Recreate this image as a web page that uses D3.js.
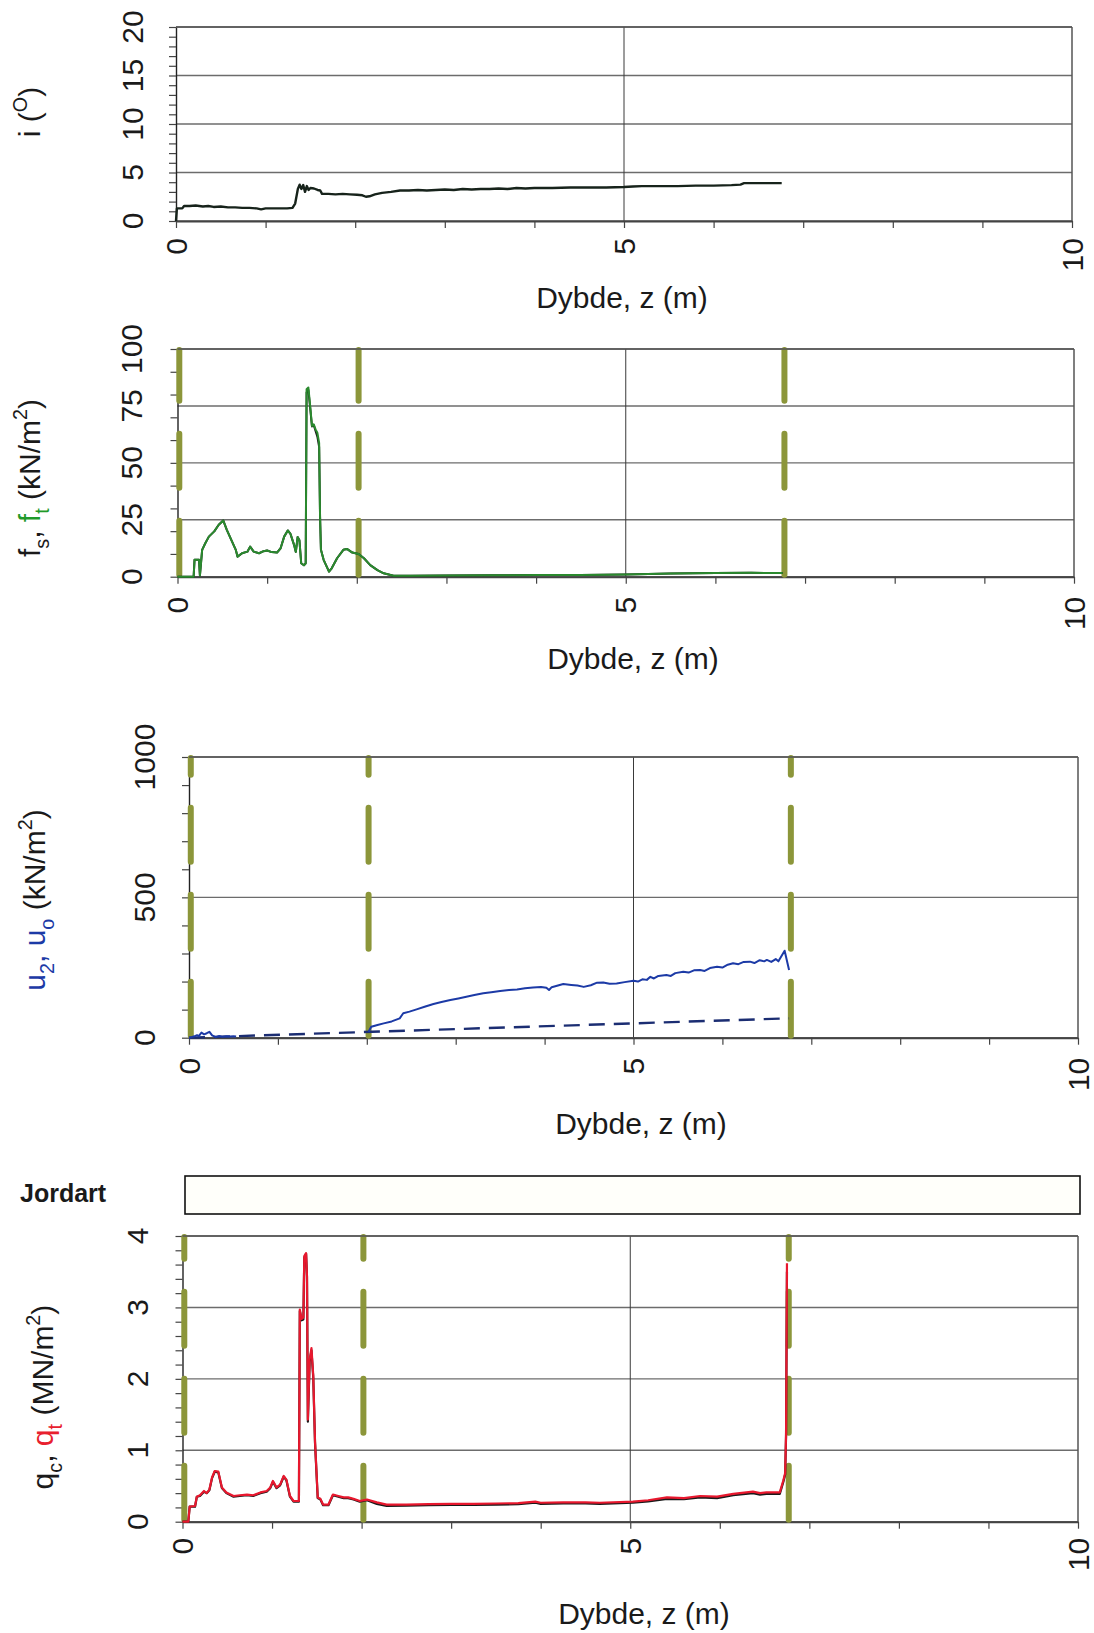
<!DOCTYPE html>
<html>
<head>
<meta charset="utf-8">
<script src="https://cdn.jsdelivr.net/npm/d3@7"></script>
<style>
  html, body { margin: 0; padding: 0; background: #fff; }
  text { font-family: "Liberation Sans", Arial, sans-serif; white-space: pre; }
</style>
</head>
<body>
<script>
// CPTU sounding: inclination, sleeve friction, pore pressure and cone resistance vs depth

const depthLabels = [0, 5, 10];
const depthMinor = d3.range(0, 11, 1);

// Inclination i (degrees): [depth m, i]
const inclination = [
  [0.00,0.0],[0.01,1.3],[0.07,1.3],[0.09,1.55],[0.15,1.55],[0.22,1.6],[0.30,1.5],[0.36,1.55],
  [0.42,1.45],[0.50,1.5],[0.58,1.4],[0.66,1.4],[0.74,1.35],[0.82,1.35],[0.90,1.3],[0.95,1.2],
  [1.00,1.3],[1.08,1.3],[1.16,1.3],[1.24,1.3],[1.30,1.35],[1.33,1.8],[1.36,3.3],[1.38,3.75],
  [1.40,3.3],[1.42,3.7],[1.44,3.0],[1.46,3.6],[1.48,3.2],[1.50,3.4],[1.54,3.35],[1.58,3.2],
  [1.61,3.15],[1.63,2.8],[1.70,2.8],[1.78,2.75],[1.86,2.8],[1.94,2.75],[2.02,2.7],[2.08,2.65],
  [2.12,2.5],[2.16,2.55],[2.22,2.75],[2.30,2.9],[2.40,3.0],[2.50,3.15],[2.60,3.15],[2.70,3.2],
  [2.80,3.15],[2.90,3.2],[3.00,3.25],[3.10,3.2],[3.20,3.3],[3.30,3.25],[3.40,3.3],[3.50,3.3],
  [3.60,3.35],[3.70,3.3],[3.80,3.4],[3.90,3.35],[4.00,3.4],[4.20,3.4],[4.40,3.45],[4.60,3.45],
  [4.80,3.45],[5.00,3.5],[5.10,3.55],[5.20,3.6],[5.40,3.6],[5.60,3.6],[5.80,3.65],[6.00,3.65],
  [6.20,3.7],[6.30,3.75],[6.34,3.9],[6.50,3.9],[6.76,3.9]
];

// Sleeve friction (kN/m2): [depth m, fs, ft]
const sleeve = [
  [0.00,0,0],[0.18,0,0],[0.19,7.4,7.4],[0.24,7.4,7.4],[0.25,0.5,0.5],[0.275,11.8,11.8],
  [0.31,14.7,14.7],[0.35,17.6,17.6],[0.41,19.9,19.9],[0.46,22.8,22.8],[0.51,24.7,24.7],
  [0.55,20.6,20.6],[0.60,16.2,16.2],[0.65,11.8,11.8],[0.67,8.8,8.8],[0.72,10.3,10.3],
  [0.78,11.0,11.0],[0.81,13.2,13.2],[0.85,11.0,11.0],[0.91,10.3,10.3],[0.96,11.2,11.2],
  [1.00,11.5,11.5],[1.05,10.8,10.8],[1.11,10.6,10.6],[1.15,12.5,12.5],[1.19,17.6,17.6],
  [1.23,20.3,20.3],[1.26,18.8,18.8],[1.30,14.0,14.0],[1.32,10.9,10.9],[1.34,17.4,17.4],
  [1.36,16.0,16.0],[1.38,5.9,5.9],[1.41,5.0,5.0],[1.43,5.9,5.9],[1.44,81.0,82.3],
  [1.46,82.0,83.1],[1.48,74.0,75.0],[1.50,66.0,66.2],[1.52,66.5,66.9],[1.54,64.0,64.7],
  [1.56,61.5,63.2],[1.58,57.0,58.8],[1.59,26.5,26.5],[1.60,11.8,11.8],[1.63,7.4,7.4],
  [1.69,2.2,2.2],[1.72,3.7,3.7],[1.78,8.1,8.1],[1.85,11.8,11.8],[1.89,12.2,12.2],
  [1.95,10.6,10.6],[2.02,10.0,10.0],[2.08,8.1,8.1],[2.15,5.1,5.1],[2.23,2.9,2.9],
  [2.30,1.5,1.5],[2.41,0.4,0.4],[2.60,0.4,0.4],[3.00,0.5,0.5],[3.50,0.6,0.6],[4.00,0.8,0.8],
  [4.50,0.7,0.7],[5.00,1.0,1.0],[5.50,1.4,1.4],[6.00,1.6,1.6],[6.40,1.7,1.7],[6.75,1.6,1.6]
];

// Measured pore pressure u2 (kN/m2): [depth m, u2], null = no reading
const poreU2 = [
  [0.00,0],[0.03,2],[0.06,5],[0.09,9],[0.11,6],[0.14,18],[0.17,12],[0.20,16],[0.23,21],
  [0.26,8],[0.30,2],[0.34,6],[0.38,3],[0.42,5],[0.46,4],[0.50,5],[0.53,4],[0.55,null],
  [2.02,21],[2.05,39],[2.12,45],[2.19,51],[2.28,58],[2.37,69],[2.41,87],[2.48,93],[2.56,101],
  [2.65,110],[2.75,120],[2.84,127],[2.94,134],[3.03,140],[3.12,146],[3.21,152],[3.31,158],
  [3.40,162],[3.50,166],[3.60,170],[3.69,172],[3.78,176],[3.87,179],[3.96,181],[4.02,178],
  [4.05,170],[4.08,180],[4.15,186],[4.21,191],[4.30,188],[4.37,186],[4.44,181],[4.52,187],
  [4.59,196],[4.66,197],[4.73,192],[4.81,193],[4.90,198],[5.00,203],[5.05,200],[5.10,208],
  [5.15,206],[5.19,217],[5.23,211],[5.28,220],[5.37,223],[5.42,220],[5.47,230],[5.56,235],
  [5.62,232],[5.68,240],[5.75,241],[5.80,238],[5.86,248],[5.94,253],[6.00,250],[6.06,260],
  [6.12,265],[6.18,262],[6.24,270],[6.31,271],[6.36,266],[6.42,276],[6.47,272],[6.50,277],
  [6.55,270],[6.60,280],[6.63,272],[6.70,310],[6.75,241]
];

// Hydrostatic pore pressure u0 (kN/m2): [depth m, u0]
const poreU0 = [[0.00,0],[6.75,69]];

// Cone resistance (MN/m2): [depth m, qc, qt]
const cone = [
  [0.00,0,0],[0.065,0,0],[0.08,0.21,0.21],[0.14,0.21,0.22],[0.16,0.35,0.35],[0.195,0.36,0.37],
  [0.24,0.42,0.43],[0.27,0.40,0.40],[0.30,0.44,0.45],[0.33,0.61,0.62],[0.36,0.70,0.71],
  [0.40,0.69,0.70],[0.44,0.47,0.48],[0.49,0.40,0.41],[0.57,0.35,0.36],[0.64,0.36,0.37],
  [0.72,0.37,0.38],[0.79,0.36,0.37],[0.87,0.40,0.41],[0.94,0.42,0.43],[0.98,0.47,0.48],
  [1.01,0.56,0.57],[1.05,0.47,0.48],[1.09,0.51,0.52],[1.13,0.63,0.64],[1.16,0.58,0.59],
  [1.20,0.35,0.36],[1.24,0.28,0.29],[1.30,0.28,0.29],[1.31,2.95,2.97],[1.33,2.82,2.84],
  [1.35,2.83,2.86],[1.36,3.70,3.72],[1.38,3.75,3.76],[1.39,3.43,3.45],[1.40,1.40,1.43],
  [1.42,2.24,2.27],[1.44,2.40,2.43],[1.46,2.02,2.05],[1.48,1.10,1.12],[1.51,0.33,0.34],
  [1.54,0.31,0.32],[1.57,0.23,0.24],[1.63,0.23,0.24],[1.68,0.37,0.38],[1.74,0.35,0.36],
  [1.80,0.33,0.34],[1.85,0.33,0.34],[1.91,0.31,0.32],[1.98,0.28,0.29],[2.06,0.30,0.31],
  [2.17,0.25,0.27],[2.28,0.22,0.24],[2.50,0.225,0.24],[2.75,0.23,0.245],[3.00,0.235,0.25],
  [3.25,0.235,0.25],[3.50,0.24,0.255],[3.75,0.245,0.26],[3.94,0.265,0.28],[4.00,0.25,0.265],
  [4.25,0.255,0.27],[4.50,0.255,0.27],[4.66,0.25,0.265],[5.03,0.265,0.28],[5.20,0.285,0.30],
  [5.41,0.32,0.34],[5.60,0.315,0.33],[5.78,0.34,0.36],[5.97,0.33,0.35],[6.15,0.37,0.39],
  [6.37,0.40,0.42],[6.45,0.38,0.40],[6.52,0.39,0.41],[6.67,0.39,0.41],[6.71,0.56,0.58],
  [6.73,0.66,0.68],[6.74,1.20,1.24],[6.75,3.50,3.62]
];

// Layer boundaries marked with thick dashed lines (m)
const layerBounds = [0.02, 2.02, 6.77];

// Axis ticks per panel
const incMajor = [0, 5, 10, 15, 20], incMinor = d3.range(0, 21, 1);
const fMajor = [0, 25, 50, 75, 100], fMinor = d3.range(0, 101, 10);
const uMajor = [0, 500, 1000], uMinor = d3.range(0, 1001, 100);
const qMajor = [0, 1, 2, 3, 4], qMinor = d3.range(0, 4.01, 0.2);

const W = 1094, H = 1633, FS = 30;
const svg = d3.select("body").append("svg").attr("width", W).attr("height", H);
svg.append("rect").attr("width", W).attr("height", H).attr("fill", "#fff");

function richText(g, parts, size) {
  const t = g.append("text").attr("font-size", size);
  let shift = 0;
  parts.forEach(p => {
    const target = p.sub ? size * 0.3 : p.sup ? -size * 0.42 : 0;
    t.append("tspan")
      .attr("dy", target - shift)
      .attr("font-size", (p.sub || p.sup) ? size * 0.66 : size)
      .attr("fill", p.c || "#1a1a1a")
      .text(p.t);
    shift = target;
  });
  return t;
}

function panel(cfg) {
  const x = d3.scaleLinear().domain([0, 10]).range([cfg.left, cfg.right]);
  const y = d3.scaleLinear().domain([0, cfg.ymax]).range([cfg.bottom, cfg.top]);
  const g = svg.append("g");

  // horizontal grid
  g.append("g").selectAll("line").data(cfg.major).join("line")
    .attr("x1", cfg.left).attr("x2", cfg.right)
    .attr("y1", d => y(d)).attr("y2", d => y(d))
    .attr("stroke", "#6c6c6c").attr("stroke-width", 1.4);
  // vertical grid at 5 m and right frame
  g.append("line").attr("x1", x(5)).attr("x2", x(5)).attr("y1", cfg.top).attr("y2", cfg.bottom)
    .attr("stroke", "#3a3a3a").attr("stroke-width", 1);
  g.append("line").attr("x1", x(10)).attr("x2", x(10)).attr("y1", cfg.top).attr("y2", cfg.bottom)
    .attr("stroke", "#555").attr("stroke-width", 1.5);

  // axes (tick marks only, labels rotated below)
  const ya = g.append("g").attr("transform", `translate(${cfg.left},0)`)
    .call(d3.axisLeft(y).tickValues(cfg.minor).tickSize(7).tickFormat("").tickSizeOuter(0));
  ya.select(".domain").attr("stroke", "#222").attr("stroke-width", 1.4);
  ya.selectAll(".tick line").attr("stroke", "#444").attr("stroke-width", 1.2);
  const xa = g.append("g").attr("transform", `translate(0,${cfg.bottom})`)
    .call(d3.axisBottom(x).tickValues(depthMinor).tickSize(7).tickFormat("").tickSizeOuter(0));
  xa.select(".domain").attr("stroke", "#444").attr("stroke-width", 2);
  xa.selectAll(".tick line").attr("stroke", "#444").attr("stroke-width", 1.2);

  // y tick labels
  g.append("g").selectAll("text").data(cfg.major).join("text")
    .attr("transform", d => `translate(${cfg.ylabX},${y(d)}) rotate(-90)`)
    .attr("text-anchor", "middle").attr("font-size", FS).attr("fill", "#1a1a1a")
    .text(d => d);
  // x tick labels
  g.append("g").selectAll("text").data(depthLabels).join("text")
    .attr("transform", d => `translate(${x(d)},${cfg.bottom + cfg.xlabGap}) rotate(-90)`)
    .attr("text-anchor", "end").attr("dy", "0.35em").attr("font-size", FS).attr("fill", "#1a1a1a")
    .text(d => d);

  // x axis title
  g.append("text").attr("x", cfg.xtitle[0]).attr("y", cfg.xtitle[1]).attr("dy", "0.35em")
    .attr("text-anchor", "middle").attr("font-size", FS).attr("fill", "#1a1a1a")
    .text("Dybde, z (m)");
  // y axis title
  richText(g, cfg.ytitle, FS)
    .attr("transform", `translate(${cfg.ytitlePos[0]},${cfg.ytitlePos[1]}) rotate(-90)`)
    .attr("text-anchor", "middle");

  // layer boundary markers
  if (cfg.bounds) {
    g.append("g").selectAll("line").data(layerBounds).join("line")
      .attr("x1", d => x(d)).attr("x2", d => x(d))
      .attr("y1", cfg.bottom - 2).attr("y2", cfg.top + 1)
      .attr("stroke", "#8c963a").attr("stroke-width", 6)
      .attr("stroke-linecap", "round").attr("stroke-dasharray", "54 33");
  }

  // data series
  cfg.series.forEach(s => {
    const line = d3.line()
      .defined(d => d[s.col] != null)
      .x(d => x(d[0])).y(d => y(d[s.col]));
    g.append("path").datum(s.data).attr("d", line)
      .attr("fill", "none").attr("stroke", s.color).attr("stroke-width", s.width)
      .attr("stroke-linejoin", "round")
      .attr("stroke-dasharray", s.dash || null);
  });

  // top frame
  g.append("line").attr("x1", cfg.left).attr("x2", cfg.right).attr("y1", cfg.top).attr("y2", cfg.top)
    .attr("stroke", "#555").attr("stroke-width", 1.5);
}

// Panel 1: inclination
panel({
  left: 176, right: 1072, top: 27, bottom: 221, ymax: 20,
  major: incMajor, minor: incMinor, ylabX: 143, xlabGap: 17,
  xtitle: [622, 297], ytitlePos: [40, 112],
  ytitle: [{t: "i ("}, {t: "O", sup: true}, {t: ")"}],
  series: [{data: inclination, col: 1, color: "#17231b", width: 2.4}]
});

// Panel 2: sleeve friction
panel({
  left: 177.5, right: 1074, top: 349, bottom: 576.7, ymax: 100,
  major: fMajor, minor: fMinor, ylabX: 142, xlabGap: 20, bounds: true,
  xtitle: [633, 658], ytitlePos: [40, 478],
  ytitle: [{t: "f"}, {t: "s", sub: true}, {t: ", "}, {t: "f", c: "#1f9a2a"}, {t: "t", sub: true, c: "#1f9a2a"}, {t: " (kN/m"}, {t: "2", sup: true}, {t: ")"}],
  series: [
    {data: sleeve, col: 1, color: "#1a1a1a", width: 2},
    {data: sleeve, col: 2, color: "#2a8a2e", width: 2}
  ]
});

// Panel 3: pore pressure
panel({
  left: 189, right: 1078, top: 757, bottom: 1037.7, ymax: 1000,
  major: uMajor, minor: uMinor, ylabX: 155, xlabGap: 20, bounds: true,
  xtitle: [641, 1123], ytitlePos: [45, 900],
  ytitle: [{t: "u", c: "#1c3aa6"}, {t: "2", sub: true, c: "#1c3aa6"}, {t: ", u", c: "#1c3aa6"}, {t: "o", sub: true, c: "#1c3aa6"}, {t: " (kN/m"}, {t: "2", sup: true}, {t: ")"}],
  series: [
    {data: poreU0, col: 1, color: "#1b2d72", width: 2.4, dash: "16 9"},
    {data: poreU2, col: 1, color: "#1c3aa6", width: 2}
  ]
});

// Soil type bar
svg.append("rect").attr("x", 185).attr("y", 1176).attr("width", 895).attr("height", 38)
  .attr("fill", "#fffffa").attr("stroke", "#111").attr("stroke-width", 1.6);
svg.append("text").attr("x", 20).attr("y", 1202).attr("font-size", 25).attr("font-weight", "bold")
  .attr("fill", "#1a1a1a").text("Jordart");

// Panel 4: cone resistance
panel({
  left: 182.5, right: 1078, top: 1236, bottom: 1521.7, ymax: 4,
  major: qMajor, minor: qMinor, ylabX: 148, xlabGap: 16, bounds: true,
  xtitle: [644, 1613], ytitlePos: [53, 1397],
  ytitle: [{t: "q"}, {t: "c", sub: true}, {t: ", "}, {t: "q", c: "#e8202e"}, {t: "t", sub: true, c: "#e8202e"}, {t: " (MN/m"}, {t: "2", sup: true}, {t: ")"}],
  series: [
    {data: cone, col: 1, color: "#1a1a1a", width: 2.2},
    {data: cone, col: 2, color: "#e8182e", width: 2.2}
  ]
});
</script>
</body>
</html>
